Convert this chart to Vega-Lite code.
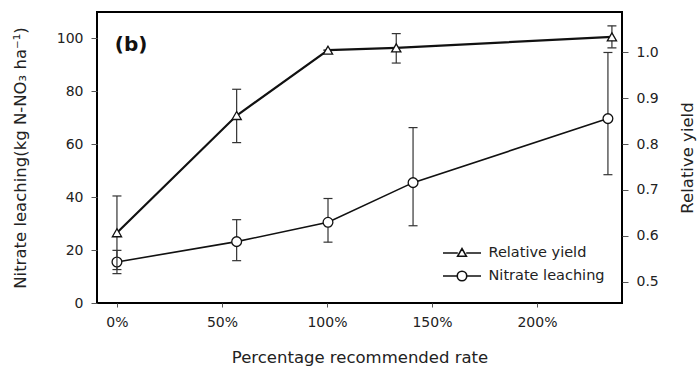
{
  "$schema": "https://vega.github.io/schema/vega-lite/v6.json",
  "width": 525,
  "height": 291,
  "autosize": "none",
  "padding": {"left": 97, "top": 12, "right": 76, "bottom": 65},
  "config": {
    "view": {"stroke": "black", "strokeWidth": 2},
    "font": "DejaVu Sans",
    "axis": {
      "labelFont": "DejaVu Sans", "titleFont": "DejaVu Sans",
      "labelFontSize": 14, "titleFontSize": 16.5,
      "labelColor": "#222", "titleColor": "#222", "titleFontWeight": "normal",
      "tickColor": "#555", "tickSize": 6, "domain": false, "grid": false
    }
  },
  "datasets": {
    "d": [
      {"series": "Nitrate leaching", "rate": 0, "val": 15.5, "lo": 11.1, "hi": 19.9},
      {"series": "Nitrate leaching", "rate": 57, "val": 23.2, "lo": 16, "hi": 31.5},
      {"series": "Nitrate leaching", "rate": 100.5, "val": 30.5, "lo": 23, "hi": 39.5},
      {"series": "Nitrate leaching", "rate": 141, "val": 45.5, "lo": 29.2, "hi": 66.3},
      {"series": "Nitrate leaching", "rate": 233.8, "val": 69.7, "lo": 48.5, "hi": 94.7},
      {"series": "Relative yield", "rate": 0, "val": 0.607, "lo": 0.527, "hi": 0.687},
      {"series": "Relative yield", "rate": 57, "val": 0.862, "lo": 0.803, "hi": 0.919},
      {"series": "Relative yield", "rate": 100.5, "val": 1.004, "lo": 1.004, "hi": 1.004},
      {"series": "Relative yield", "rate": 133, "val": 1.009, "lo": 0.976, "hi": 1.04},
      {"series": "Relative yield", "rate": 235.7, "val": 1.033, "lo": 1.009, "hi": 1.057}
    ],
    "label": [{"rate": -1, "val": 97.7, "txt": "(b)"}]
  },
  "data": {"name": "d"},
  "encoding": {
    "x": {
      "field": "rate", "type": "quantitative",
      "scale": {"domain": [-9.5, 240.5], "nice": false, "zero": false},
      "axis": {
        "values": [0, 50, 100, 150, 200], "labelExpr": "datum.value + '%'",
        "tickSize": 4, "labelPadding": 8, "titlePadding": 20,
        "title": "Percentage recommended rate"
      }
    }
  },
  "layer": [
    {
      "transform": [{"filter": "datum.series === 'Nitrate leaching'"}],
      "encoding": {
        "y": {
          "field": "val", "type": "quantitative",
          "scale": {"domain": [0, 110], "nice": false},
          "axis": {"orient": "left", "values": [0, 20, 40, 60, 80, 100], "labelPadding": 8, "titlePadding": 28, "title": "Nitrate leaching(kg N-NO₃ ha⁻¹)"}
        }
      },
      "layer": [
        {"mark": {"type": "rule", "color": "#333", "strokeWidth": 1.2}, "encoding": {"y": {"field": "lo", "type": "quantitative"}, "y2": {"field": "hi"}}},
        {"mark": {"type": "tick", "orient": "horizontal", "size": 9, "thickness": 1.2, "color": "#333", "opacity": 1}, "encoding": {"y": {"field": "lo", "type": "quantitative"}}},
        {"mark": {"type": "tick", "orient": "horizontal", "size": 9, "thickness": 1.2, "color": "#333", "opacity": 1}, "encoding": {"y": {"field": "hi", "type": "quantitative"}}},
        {"mark": {"type": "line", "color": "#111", "strokeWidth": 1.6}, "encoding": {}},
        {"mark": {"type": "point", "shape": "circle", "filled": true, "fill": "white", "stroke": "#111", "strokeWidth": 1.3, "size": 95, "opacity": 1}, "encoding": {}}
      ]
    },
    {
      "transform": [{"filter": "datum.series === 'Relative yield'"}],
      "encoding": {
        "y": {
          "field": "val", "type": "quantitative",
          "scale": {"domain": [0.4543, 1.087], "nice": false, "zero": false},
          "axis": {"orient": "right", "values": [0.5, 0.6, 0.7, 0.8, 0.9, 1.0], "format": ".1f", "labelPadding": 8, "titlePadding": 37, "titleAngle": 270, "title": "Relative yield"}
        }
      },
      "layer": [
        {"mark": {"type": "rule", "color": "#333", "strokeWidth": 1.2}, "encoding": {"y": {"field": "lo", "type": "quantitative"}, "y2": {"field": "hi"}}},
        {"mark": {"type": "tick", "orient": "horizontal", "size": 9, "thickness": 1.2, "color": "#333", "opacity": 1}, "encoding": {"y": {"field": "lo", "type": "quantitative"}}},
        {"mark": {"type": "tick", "orient": "horizontal", "size": 9, "thickness": 1.2, "color": "#333", "opacity": 1}, "encoding": {"y": {"field": "hi", "type": "quantitative"}}},
        {"mark": {"type": "line", "color": "#111", "strokeWidth": 2.2}, "encoding": {}},
        {"mark": {"type": "point", "shape": "triangle-up", "filled": true, "fill": "white", "stroke": "#111", "strokeWidth": 1.3, "size": 85, "opacity": 1}, "encoding": {}}
      ]
    },
    {
      "mark": {"type": "point", "filled": false, "opacity": 0, "size": 361},
      "encoding": {
        "y": {"field": "val", "type": "quantitative", "scale": {"domain": [0, 110]}, "axis": null},
        "shape": {
          "field": "series", "type": "nominal",
          "scale": {"domain": ["Relative yield", "Nitrate leaching"],
                    "range": ["M-2,0H-0.44M0.44,0H2M-0.46,0.34L0,-0.46L0.46,0.34Z", "M-2,0H-0.5M0.5,0H2M0.5,0A0.5,0.5,0,1,1,-0.5,0A0.5,0.5,0,1,1,0.5,0Z"]},
          "legend": {
            "orient": "none", "legendX": 354.5, "legendY": 230.5, "title": null, "padding": 0,
            "symbolSize": 361, "labelOffset": 16, "rowPadding": 6,
            "symbolOpacity": 1, "symbolFillColor": "white", "symbolStrokeColor": "#111", "symbolStrokeWidth": 1.6,
            "labelFont": "DejaVu Sans", "labelFontSize": 14.5, "labelColor": "#222"
          }
        }
      }
    },
    {
      "data": {"name": "label"},
      "mark": {"type": "text", "fontSize": 20, "fontWeight": "bold", "font": "DejaVu Sans", "align": "left", "color": "#111"},
      "encoding": {"x": {"field": "rate", "type": "quantitative"}, "y": {"field": "val", "type": "quantitative", "scale": {"domain": [0, 110]}, "axis": null}, "text": {"field": "txt"}}
    }
  ],
  "resolve": {"scale": {"y": "independent"}}
}
